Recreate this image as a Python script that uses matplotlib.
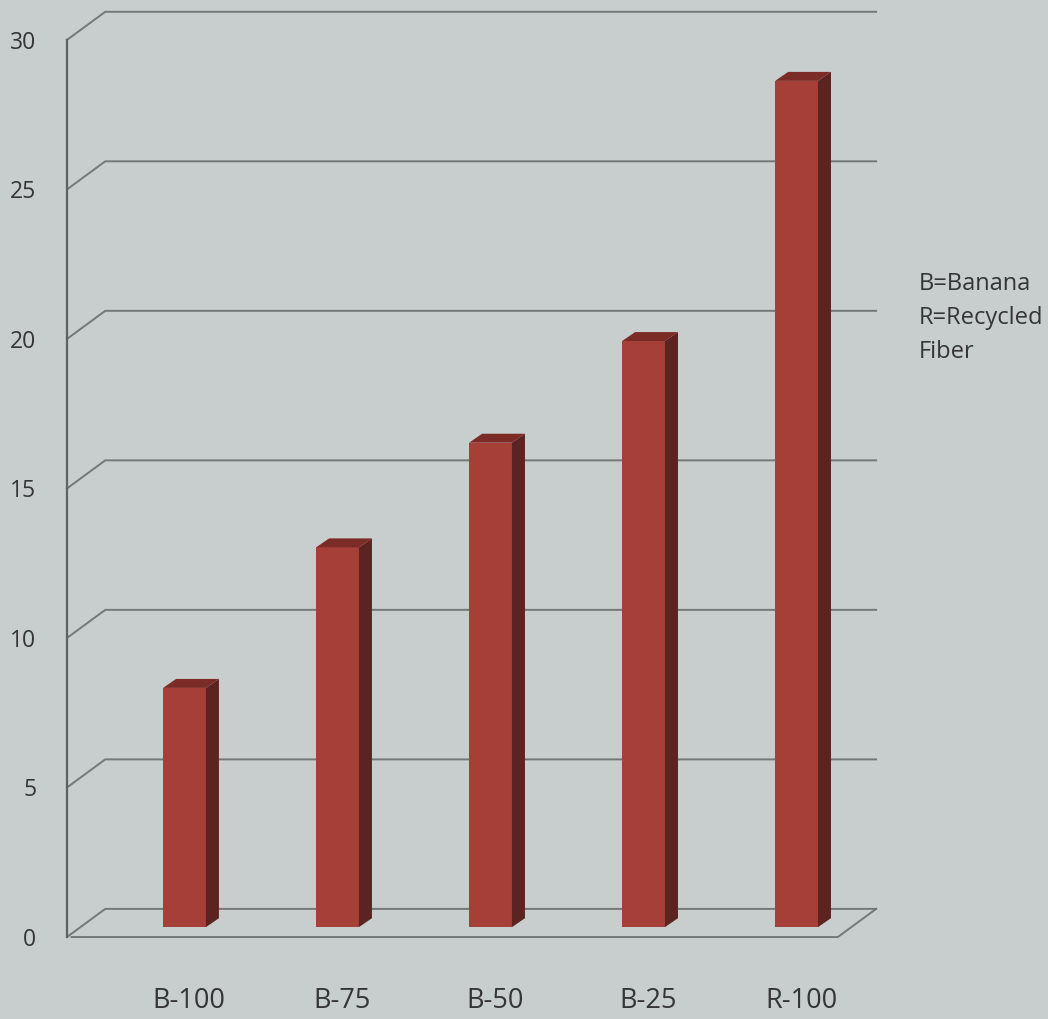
import matplotlib.pyplot as plt
from matplotlib.patches import Polygon

plt.rcParams['font.family'] = ['Open Sans', 'DejaVu Sans']

samples = ["B-100", "B-75", "B-50", "B-25", "R-100"]
values = [8.0, 12.7, 16.2, 19.6, 28.3]
yticks = [0, 5, 10, 15, 20, 25, 30]
notes = ["B=Banana", "R=Recycled", "Fiber"]

front_col = "#a63f38"
side_col = "#5c2420"
top_col = "#7c2c27"
grid_col = "#747878"
bg_col = "#c7cecd"

fig = plt.figure(figsize=(10.48, 10.19), dpi=100, facecolor=bg_col)
W, H = 1048, 1019
# axes box in pixels: left 67, right 885, bottom 940, top 10
ax = fig.add_axes([67 / W, (H - 940) / H, (885 - 67) / W, (940 - 10) / H])
ax.set_facecolor("none")
ax.set_xlim(-0.768, 4.578)
ax.set_ylim(-0.1, 31.0)

# pseudo-3d offsets in data units
wall_dx, wall_dy = 0.25, 0.94
bar_dx, bar_dy = 0.085, 0.30
lift = 0.33
bw = 0.28
x_front = -0.768
x_right = 4.52

# back wall gridlines
for v in yticks:
    ax.plot([x_front, x_front + wall_dx, x_right],
            [v, v + wall_dy, v + wall_dy],
            color=grid_col, lw=1.4, clip_on=False, zorder=1)

# floor
ax.plot([x_front + 0.03, x_right - wall_dx, x_right],
        [0, 0, wall_dy], color=grid_col, lw=1.4, clip_on=False, zorder=1)

# front value axis
ax.plot([x_front, x_front], [0, 30], color="#5e6262", lw=1.6,
        clip_on=False, zorder=1)

xs = list(range(len(samples)))
ax.bar(xs, values, width=bw, bottom=lift, color=front_col, zorder=3)
for x, v in zip(xs, values):
    r = x + bw / 2
    l = x - bw / 2
    t = lift + v
    side = Polygon([(r, lift), (r + bar_dx, lift + bar_dy),
                    (r + bar_dx, t + bar_dy), (r, t)],
                   closed=True, facecolor=side_col, edgecolor="none", zorder=3)
    top = Polygon([(l, t), (l + bar_dx, t + bar_dy),
                   (r + bar_dx, t + bar_dy), (r, t)],
                  closed=True, facecolor=top_col, edgecolor="none", zorder=3)
    ax.add_patch(side)
    ax.add_patch(top)

ax.set_yticks(yticks)
ax.set_yticklabels([str(t) for t in yticks], fontsize=16.5, color="#353535")
ax.tick_params(axis="y", length=0, pad=22)
ax.set_xticks([x + 0.03 for x in xs])
ax.set_xticklabels(samples, fontsize=19.5, color="#353535")
ax.tick_params(axis="x", length=0, pad=34)
for s in ax.spines.values():
    s.set_visible(False)

for i, line in enumerate(notes):
    fig.text(919 / W, 1 - (284 + 34 * i) / H, line, fontsize=17,
             color="#353535", ha="left", va="center")

fig.savefig("out.png", dpi=100, facecolor=bg_col)
